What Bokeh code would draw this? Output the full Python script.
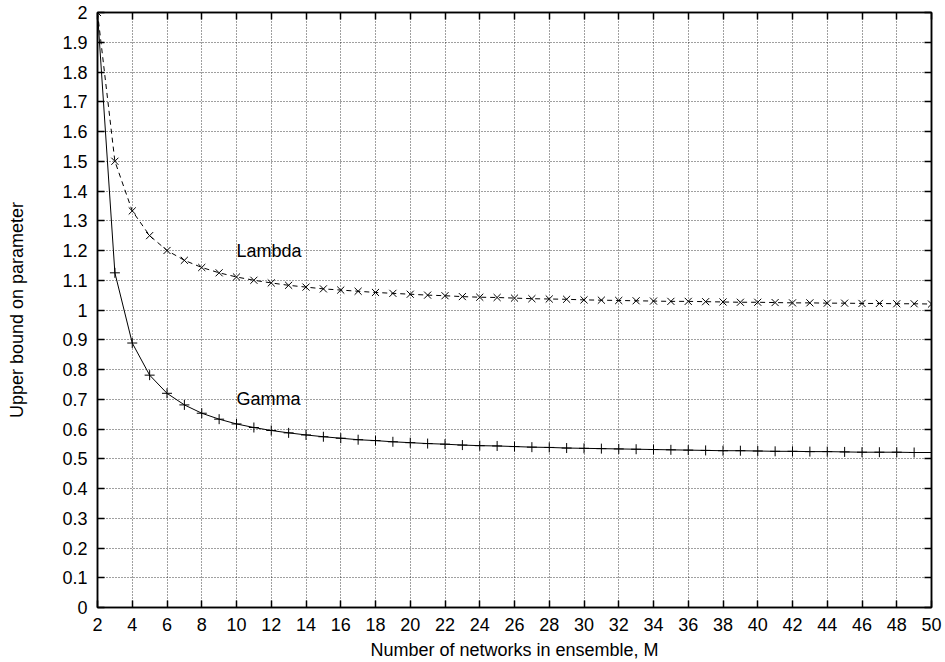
from bokeh.plotting import figure
from bokeh.models import Range1d, FixedTicker, LinearAxis, Label
from bokeh.embed import file_html
from bokeh.resources import INLINE

# ---- data ----
M = list(range(2, 51))
lambda_vals = [2.0, 1.5, 1.333, 1.25, 1.2, 1.167, 1.143, 1.125, 1.111, 1.1,
               1.091, 1.083, 1.077, 1.071, 1.067, 1.063, 1.059, 1.056, 1.053, 1.05,
               1.048, 1.045, 1.043, 1.042, 1.04, 1.038, 1.037, 1.036, 1.034, 1.033,
               1.032, 1.031, 1.03, 1.029, 1.029, 1.028, 1.027, 1.026, 1.026, 1.025,
               1.024, 1.024, 1.023, 1.023, 1.022, 1.022, 1.021, 1.021, 1.02]
gamma_vals = [2.0, 1.125, 0.889, 0.781, 0.72, 0.681, 0.653, 0.633, 0.617, 0.605,
              0.595, 0.587, 0.58, 0.574, 0.569, 0.564, 0.561, 0.557, 0.554, 0.551,
              0.549, 0.546, 0.544, 0.543, 0.541, 0.539, 0.538, 0.536, 0.535, 0.534,
              0.533, 0.532, 0.531, 0.53, 0.529, 0.528, 0.527, 0.527, 0.526, 0.525,
              0.525, 0.524, 0.524, 0.523, 0.522, 0.522, 0.522, 0.521, 0.521]
x_ticks = [2, 4, 6, 8, 10, 12, 14, 16, 18, 20, 22, 24, 26, 28, 30, 32, 34, 36,
           38, 40, 42, 44, 46, 48, 50]
y_ticks = [0, 0.1, 0.2, 0.3, 0.4, 0.5, 0.6, 0.7, 0.8, 0.9, 1, 1.1, 1.2, 1.3,
           1.4, 1.5, 1.6, 1.7, 1.8, 1.9, 2]
y_tick_labels = ["0", "0.1", "0.2", "0.3", "0.4", "0.5", "0.6", "0.7", "0.8", "0.9",
                 "1", "1.1", "1.2", "1.3", "1.4", "1.5", "1.6", "1.7", "1.8", "1.9", "2"]
series_labels = [("Lambda", 10, 1.2), ("Gamma", 10, 0.7)]

FONT = "Liberation Sans"
FS = "18px"

p = figure(width=945, height=662, output_backend="svg", toolbar_location=None,
           x_range=Range1d(2, 50), y_range=Range1d(0, 2),
           min_border_left=97, min_border_right=14, min_border_top=12, min_border_bottom=54)
p.background_fill_color = "white"
p.border_fill_color = "white"
p.outline_line_color = "black"
p.outline_line_width = 1.5

# grid
for g, t in ((p.xgrid, x_ticks), (p.ygrid, y_ticks)):
    g.ticker = FixedTicker(ticks=t)
    g.grid_line_color = "black"
    g.grid_line_dash = "1 2"
    g.grid_line_width = 1
    g.grid_line_alpha = 0.75

def style_axis(ax, show_labels=True):
    ax.axis_line_color = "black"
    ax.axis_line_width = 1.5
    ax.major_tick_in = 7
    ax.major_tick_out = 0
    ax.major_tick_line_color = "black"
    ax.major_tick_line_width = 1.5
    ax.minor_tick_line_color = None
    ax.major_label_text_font = FONT
    ax.major_label_text_color = "black"
    ax.axis_label_text_font = FONT
    ax.axis_label_text_font_style = "normal"
    ax.axis_label_text_color = "black"
    ax.axis_label_text_font_size = FS
    if show_labels:
        ax.major_label_text_font_size = FS
    else:
        ax.major_label_text_color = None
        ax.major_label_text_font_size = "1px"
        ax.major_label_standoff = 0

xa = p.xaxis[0]
xa.ticker = FixedTicker(ticks=x_ticks)
style_axis(xa)
xa.major_label_standoff = 10
xa.axis_label = "Number of networks in ensemble, M"
xa.axis_label_standoff = 6

ya = p.yaxis[0]
ya.ticker = FixedTicker(ticks=y_ticks)
style_axis(ya)
ya.major_label_overrides = {t: l for t, l in zip(y_ticks, y_tick_labels)}
ya.major_label_standoff = 10
ya.axis_label = "Upper bound on parameter"
ya.axis_label_standoff = 32

top = LinearAxis(ticker=FixedTicker(ticks=x_ticks))
style_axis(top, show_labels=False)
p.add_layout(top, "above")
right = LinearAxis(ticker=FixedTicker(ticks=y_ticks))
style_axis(right, show_labels=False)
p.add_layout(right, "right")

# series
p.line(M, lambda_vals, line_color="black", line_width=1, line_dash="5 4")
p.scatter(M, lambda_vals, marker="x", size=10, line_color="black", line_width=1)
p.line(M, gamma_vals, line_color="black", line_width=1)
p.scatter(M, gamma_vals, marker="cross", size=10, line_color="black", line_width=1)

for txt, lx, ly in series_labels:
    p.add_layout(Label(x=lx, y=ly, text=txt, text_font=FONT, text_font_size=FS,
                       text_color="black", text_baseline="middle", text_align="left"))

open("out.html", "w").write(file_html(p, INLINE))
